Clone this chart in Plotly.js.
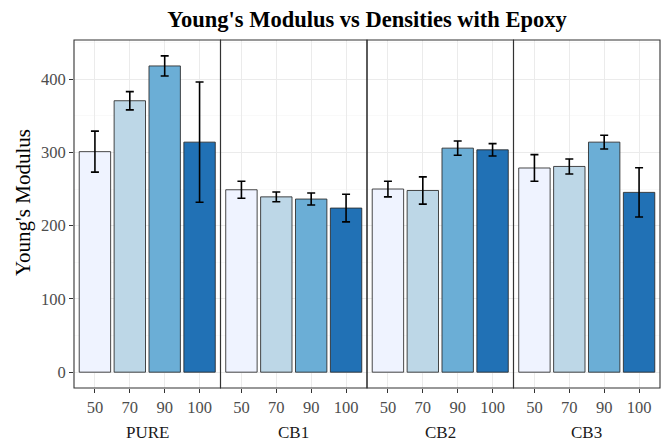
<!DOCTYPE html>
<html>
<head>
<meta charset="utf-8">
<script src="https://cdn.plot.ly/plotly-3.0.1.min.js"></script>
<style>html,body{margin:0;padding:0;background:#fff;}#chart{width:668px;height:441px;}</style>
</head>
<body>
<div id="chart"></div>
<script>
// ---- data ----
var groups = ["PURE", "CB1", "CB2", "CB3"];
var densities = ["50", "70", "90", "100"];
var meanPURE = [301, 370.5, 418, 314];
var errPURE  = [28, 12.5, 13.7, 82];
var meanCB1 = [249, 239.3, 236.3, 224];
var errCB1  = [11.6, 6.6, 8.2, 18.8];
var meanCB2 = [250, 248, 305.8, 303.5];
var errCB2  = [10.7, 18.6, 9.8, 8.5];
var meanCB3 = [278.7, 280.8, 314, 245.4];
var errCB3  = [18.2, 10.2, 9.3, 33.6];
var yTicks = [0, 100, 200, 300, 400];
var fillColors = ["#EFF3FF", "#BDD7E7", "#6BAED6", "#2171B5"];

var means = [meanPURE, meanCB1, meanCB2, meanCB3];
var errs = [errPURE, errCB1, errCB2, errCB3];

var serif = "Liberation Serif";
var traces = [];
var layout = {
  width: 668, height: 441,
  margin: {l: 74, r: 8, t: 40, b: 53},
  paper_bgcolor: "#ffffff",
  plot_bgcolor: "#ffffff",
  showlegend: false,
  title: {
    text: "<b>Young's Modulus vs Densities with Epoxy</b>",
    font: {family: serif, size: 22.5, color: "#000000"},
    x: 0.5, xref: "paper", xanchor: "center", y: 1 - 19.5/441, yref: "container", yanchor: "middle"
  },
  yaxis: {
    range: [-21.6, 453.4],
    tickvals: yTicks,
    ticktext: yTicks.map(String),
    showgrid: true, gridcolor: "#EBEBEB", gridwidth: 1.1,
    minor: {dtick: 50, tick0: 0, showgrid: true, gridcolor: "#F5F5F5", gridwidth: 0.6, ticks: ""},
    zeroline: false,
    ticks: "outside", ticklen: 4, tickcolor: "#333333", tickwidth: 1,
    tickfont: {family: serif, size: 16.5, color: "#4D4D4D"},
    fixedrange: true
  },
  shapes: [],
  annotations: [{
    text: "Young's Modulus", xref: "paper", yref: "paper",
    x: (22.5 - 74) / 586, y: (388 - 202.5) / 348,
    xanchor: "center", yanchor: "middle", textangle: -90, showarrow: false,
    font: {family: serif, size: 21, color: "#000000"}
  }]
};

for (var g = 0; g < groups.length; g++) {
  var ax = g === 0 ? "" : String(g + 1);
  traces.push({
    type: "bar",
    x: densities,
    y: means[g],
    xaxis: "x" + ax,
    yaxis: "y",
    width: 0.9,
    marker: {color: fillColors, line: {color: "rgba(40,40,40,0.85)", width: 1}},
    error_y: {type: "data", array: errs[g], visible: true, color: "#000000", thickness: 1.6, width: 4},
    hoverinfo: "none"
  });
  var d0 = g * 0.25, d1 = (g + 1) * 0.25;
  layout["xaxis" + ax] = {
    domain: [d0, d1],
    anchor: "y",
    type: "category",
    categoryorder: "array",
    categoryarray: densities,
    range: [-0.6, 3.6],
    showgrid: true, gridcolor: "#EBEBEB", gridwidth: 1.1,
    zeroline: false,
    ticks: "outside", ticklen: 4, tickcolor: "#333333", tickwidth: 1,
    tickfont: {family: serif, size: 16.5, color: "#4D4D4D"},
    fixedrange: true
  };
  layout.shapes.push({
    type: "rect", xref: "paper", yref: "paper",
    x0: d0, x1: d1, y0: 0, y1: 1,
    line: {color: "#333333", width: 1.1}, fillcolor: "rgba(0,0,0,0)", layer: "above"
  });
  layout.annotations.push({
    text: groups[g], xref: "paper", yref: "paper",
    x: (d0 + d1) / 2, y: -(432.5 - 388) / 348, yanchor: "middle", xanchor: "center",
    showarrow: false, font: {family: serif, size: 17, color: "#1A1A1A"}
  });
}

Plotly.newPlot("chart", traces, layout, {displayModeBar: false, staticPlot: true});
</script>
</body>
</html>
